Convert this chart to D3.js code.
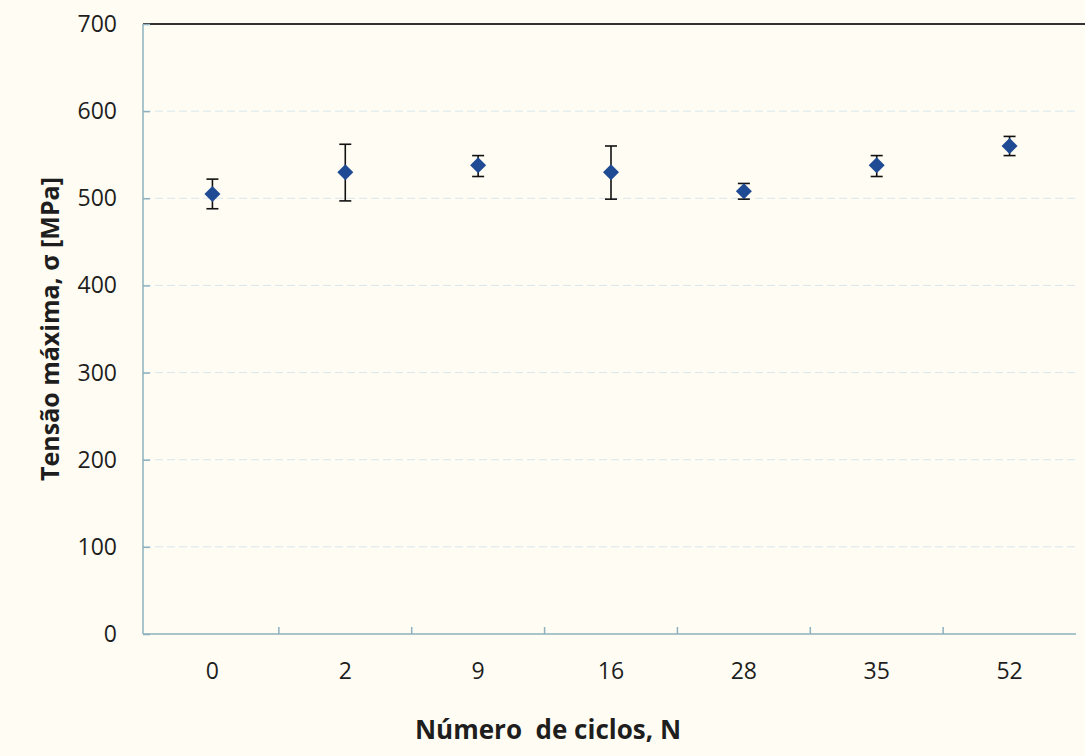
<!DOCTYPE html>
<html>
<head>
<meta charset="utf-8">
<script src="https://cdn.jsdelivr.net/npm/d3@7"></script>
<style>
  html, body { margin: 0; padding: 0; background: #fffdf3; }
  svg { display: block; }
</style>
</head>
<body>
<script>
// Data
const cycles = ['0', '2', '9', '16', '28', '35', '52'];
const stressMean = [505, 530, 538, 530, 508, 538, 560];
const stressHigh = [522, 562, 549, 560, 517, 549, 571];
const stressLow = [488, 497, 525, 499, 499, 525, 549];
const yTicks = [0, 100, 200, 300, 400, 500, 600, 700];

const Constants = {
  width: 1085,
  height: 756,
  left: 143,
  bandStart: 146,
  right: 1076,
  top: 24,
  bottom: 634,
  axisColor: '#8eb0bf',
  gridColor: '#d9e6ec',
  markerColor: '#1f4a94',
  textColor: '#1e1e1e',
  font: '"Open Sans", "Liberation Sans", sans-serif',
};

const points = cycles.map((c, i) => ({
  cycle: c,
  mean: stressMean[i],
  high: stressHigh[i],
  low: stressLow[i],
}));

const svg = d3
  .select('body')
  .append('svg')
  .attr('width', Constants.width)
  .attr('height', Constants.height);

svg
  .append('rect')
  .attr('width', Constants.width)
  .attr('height', Constants.height)
  .attr('fill', '#fffdf3');

const x = d3.scaleBand().domain(cycles).range([Constants.bandStart, Constants.right]);
const y = d3.scaleLinear().domain([0, 700]).range([Constants.bottom, Constants.top]);

// Grid lines
svg
  .selectAll('.grid')
  .data(yTicks.filter(t => t > 0 && t < 700))
  .enter()
  .append('line')
  .attr('x1', Constants.left)
  .attr('x2', Constants.right)
  .attr('y1', d => y(d))
  .attr('y2', d => y(d))
  .style('stroke', Constants.gridColor)
  .style('stroke-dasharray', '8,4')
  .style('stroke-width', 1);

// Top border line
svg
  .append('line')
  .attr('x1', Constants.left)
  .attr('x2', Constants.width)
  .attr('y1', y(700))
  .attr('y2', y(700))
  .style('stroke', '#333')
  .style('stroke-width', 2);

// Y axis
const yAxis = svg
  .append('g')
  .attr('transform', `translate(${Constants.left},0)`)
  .call(d3.axisRight(y).tickValues(yTicks).tickSize(7).tickFormat(''));
yAxis.selectAll('path, line').style('stroke', Constants.axisColor).style('stroke-width', 1.5);
yAxis.select('.domain').attr('d', `M0,${Constants.bottom}V${Constants.top}`);

svg
  .selectAll('.ylabel')
  .data(yTicks)
  .enter()
  .append('text')
  .attr('x', 117)
  .attr('y', d => y(d))
  .attr('dy', '0.35em')
  .attr('text-anchor', 'end')
  .style('font-family', Constants.font)
  .style('font-size', '23px')
  .style('fill', Constants.textColor)
  .text(d => d);

// X axis with ticks at category boundaries
const xAxis = svg.append('g');
xAxis
  .append('line')
  .attr('x1', Constants.left)
  .attr('x2', Constants.right)
  .attr('y1', Constants.bottom)
  .attr('y2', Constants.bottom)
  .style('stroke', Constants.axisColor)
  .style('stroke-width', 1.5);

xAxis
  .selectAll('.xtick')
  .data(cycles.slice(1))
  .enter()
  .append('line')
  .attr('x1', d => x(d))
  .attr('x2', d => x(d))
  .attr('y1', Constants.bottom)
  .attr('y2', Constants.bottom - 7)
  .style('stroke', Constants.axisColor)
  .style('stroke-width', 1.5);

xAxis
  .selectAll('.xlabel')
  .data(cycles)
  .enter()
  .append('text')
  .attr('x', d => x(d) + x.bandwidth() / 2)
  .attr('y', 679)
  .attr('text-anchor', 'middle')
  .style('font-family', Constants.font)
  .style('font-size', '23px')
  .style('fill', Constants.textColor)
  .text(d => d);

// Axis titles
svg
  .append('text')
  .attr('x', 548)
  .attr('y', 739)
  .attr('text-anchor', 'middle')
  .style('font-family', Constants.font)
  .style('font-size', '26px')
  .style('font-weight', 'bold')
  .style('fill', Constants.textColor)
  .style('white-space', 'pre')
  .text('Número  de ciclos, N');

svg
  .append('text')
  .attr('transform', 'translate(59,329) rotate(-90)')
  .attr('text-anchor', 'middle')
  .style('font-family', Constants.font)
  .style('font-size', '25px')
  .style('font-weight', 'bold')
  .style('fill', Constants.textColor)
  .text('Tensão máxima, σ [MPa]');

// Error bars
const cx = d => x(d.cycle) + x.bandwidth() / 2;
const errors = svg
  .selectAll('.err')
  .data(points)
  .enter()
  .append('g')
  .style('stroke', '#111')
  .style('stroke-width', 1.6);

errors
  .append('line')
  .attr('x1', cx)
  .attr('x2', cx)
  .attr('y1', d => y(d.high))
  .attr('y2', d => y(d.low));
errors
  .append('line')
  .attr('x1', d => cx(d) - 6)
  .attr('x2', d => cx(d) + 6)
  .attr('y1', d => y(d.high))
  .attr('y2', d => y(d.high));
errors
  .append('line')
  .attr('x1', d => cx(d) - 6)
  .attr('x2', d => cx(d) + 6)
  .attr('y1', d => y(d.low))
  .attr('y2', d => y(d.low));

// Diamond markers
svg
  .selectAll('.marker')
  .data(points)
  .enter()
  .append('path')
  .attr('transform', d => `translate(${cx(d)},${y(d.mean)})`)
  .attr('d', 'M0,-8L8,0L0,8L-8,0Z')
  .style('fill', Constants.markerColor);
</script>
</body>
</html>
